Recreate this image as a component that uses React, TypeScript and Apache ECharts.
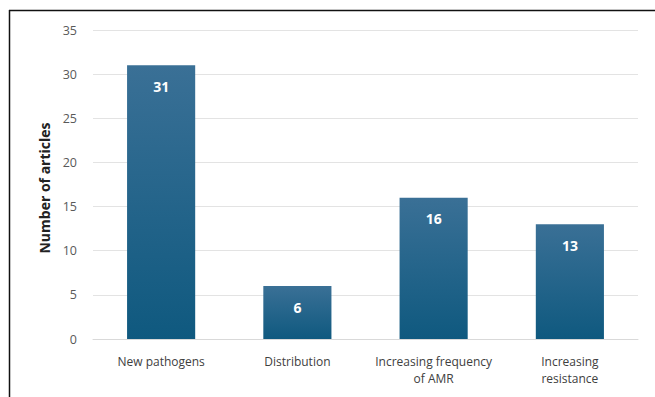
import React, { useEffect, useRef } from "react";
import * as echarts from "echarts";

// Article counts per research theme
const categories = [
  "New pathogens",
  "Distribution",
  "Increasing frequency\nof AMR",
  "Increasing\nresistance",
];
const articleCounts = [31, 6, 16, 13];
const yTicks = { min: 0, max: 35, interval: 5 };
const yAxisTitle = "Number of articles";

const FONT = "'Open Sans', Lato, sans-serif";

export default function App() {
  const ref = useRef<HTMLDivElement>(null);

  useEffect(() => {
    if (!ref.current) return;
    const chart = echarts.init(ref.current, undefined, { renderer: "svg" });
    chart.setOption({
      animation: false,
      backgroundColor: "#ffffff",
      textStyle: { fontFamily: FONT },
      grid: { left: 93, right: 17, top: 30, bottom: 58 },
      graphic: [
        {
          type: "line",
          shape: { x1: 9, y1: 10.5, x2: 655, y2: 10.5 },
          style: { stroke: "#111", lineWidth: 1.5 },
        },
        {
          type: "line",
          shape: { x1: 9.5, y1: 10, x2: 9.5, y2: 397 },
          style: { stroke: "#111", lineWidth: 1.5 },
        },
      ],
      xAxis: {
        type: "category",
        data: categories,
        axisLine: { show: true, lineStyle: { color: "#d9d9d9", width: 1 } },
        axisTick: { show: false },
        axisLabel: {
          interval: 0,
          hideOverlap: false,
          color: "#404040",
          fontSize: 12,
          fontFamily: FONT,
          margin: 14,
          lineHeight: 17,
        },
      },
      yAxis: {
        type: "value",
        min: yTicks.min,
        max: yTicks.max,
        interval: yTicks.interval,
        name: yAxisTitle,
        nameLocation: "middle",
        nameGap: 42,
        nameTextStyle: {
          color: "#222",
          fontSize: 14,
          fontWeight: "bold",
          fontFamily: FONT,
          padding: [0, 7, 0, 0],
        },
        axisLine: { show: false },
        axisTick: { show: false },
        splitLine: { lineStyle: { color: "#e3e3e3", width: 1 } },
        axisLabel: {
          color: "#595959",
          fontSize: 12.5,
          fontFamily: FONT,
          margin: 16,
        },
      },
      series: [
        {
          type: "bar",
          data: articleCounts,
          barWidth: "50%",
          itemStyle: {
            color: new echarts.graphic.LinearGradient(0, 0, 0, 1, [
              { offset: 0, color: "#3a7096" },
              { offset: 1, color: "#0f597f" },
            ]),
          },
          label: {
            show: true,
            position: "insideTop",
            distance: 14,
            color: "#ffffff",
            fontSize: 14,
            fontWeight: "bold",
            fontFamily: FONT,
          },
        },
      ],
    });
    return () => chart.dispose();
  }, []);

  return (
    <div
      ref={ref}
      style={{ position: "fixed", left: 0, top: 0, width: 655, height: 397 }}
    />
  );
}
